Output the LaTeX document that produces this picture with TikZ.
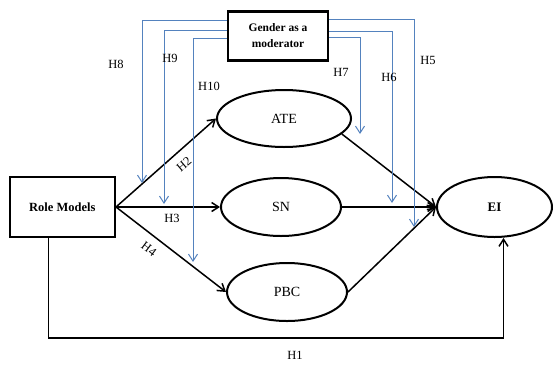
\documentclass[tikz,border=0pt]{standalone}
\usepackage{fontspec}
\setmainfont{Liberation Serif}
\usetikzlibrary{positioning, calc, shapes.geometric, arrows.meta}
\definecolor{modblue}{RGB}{84,130,190}

\begin{document}
\begin{tikzpicture}[
    x=1pt, y=-1pt,
    node distance=30pt,
    block/.style={
      align=center, draw, line width=2.4pt, minimum width=105pt, minimum height=60pt,
      font=\bfseries\fontsize{12.5}{15}\selectfont
    },
    construct/.style={
      ellipse, draw, line width=2pt, minimum width=120pt, minimum height=58pt, inner sep=0pt,
      font=\fontsize{14}{16}\selectfont
    },
    hyp/.style={
      inner sep=0pt, font=\fontsize{12.5}{15}\selectfont
    },
    conn/.style={->, line width=1.5pt},
    mod/.style={->, draw=modblue, line width=1pt},
    >={Straight Barb[length=7pt,width=9pt]},
  ]
    \useasboundingbox (0,0) rectangle (553,364);

    % constructs
    \node [construct] (sn) at (281,207) {SN};
    \node [construct, minimum width=134pt, minimum height=57pt, above=29pt of sn, xshift=3pt] (ate) {ATE};
    \node [construct, below=25pt of sn, xshift=6pt] (pbc) {PBC};
    \node [construct, minimum width=115pt, minimum height=60pt, right=94pt of sn,
      font=\bfseries\fontsize{13}{15}\selectfont] (ei) {EI};

    % boxes
    \node [block, left=104pt of sn] (role_models) {Role Models};
    \node [block, minimum width=100pt, minimum height=49pt,
      font=\bfseries\fontsize{11.5}{16}\selectfont] (gender_moderator) at (278,36) {Gender as a\\moderator};

    % Direct paths
    \draw [conn] (role_models.east) -- (ate.west);
    \draw [conn] (role_models.east) -- (sn.west);
    \draw [conn] (role_models.east) -- (pbc.west);
    \draw [conn] (ate.-15) -- (ei.west);
    \draw [conn] (sn) -- (ei.west);
    \draw [conn] (pbc.east) -- (ei.west);
    \draw [conn] ([xshift=-14pt]role_models.south) -- ++(0,100) -| ([xshift=9pt]ei.south);

    % Endpoints
    \coordinate (h8_tip) at (142,183);
    \coordinate (h9_tip) at (164,204);
    \coordinate (h10_tip) at (193,262);
    \coordinate (h7_tip) at (360,134);
    \coordinate (h6_tip) at (392,203);
    \coordinate (h5_tip) at (414,227);

    % Moderator lines
    \draw [mod] (gender_moderator.west |- 0,20) -| (h8_tip);
    \draw [mod] (gender_moderator.west |- 0,30) -| (h9_tip);
    \draw [mod] (gender_moderator.west |- 0,38) -| (h10_tip);
    \draw [mod] (gender_moderator.east |- 0,19) -| (h5_tip);
    \draw [mod] (gender_moderator.east |- 0,31) -| (h6_tip);
    \draw [mod] (gender_moderator.east |- 0,37) -| (h7_tip);

    % Labels
    \node [hyp] (h1_label) at (295,355) {H1};
    \node [hyp, rotate=40] (h2_label) at (184,164) {H2};
    \node [hyp] (h3_label) at (172,218) {H3};
    \node [hyp, rotate=-37] (h4_label) at (149,249) {H4};
    \node [hyp] (h5_label) at (428,60) {H5};
    \node [hyp] (h6_label) at (389,77) {H6};
    \node [hyp] (h7_label) at (341,72) {H7};
    \node [hyp] (h8_label) at (116,64) {H8};
    \node [hyp] (h9_label) at (170,58) {H9};
    \node [hyp] (h10_label) at (209,86) {H10};

  \end{tikzpicture}
\end{document}
